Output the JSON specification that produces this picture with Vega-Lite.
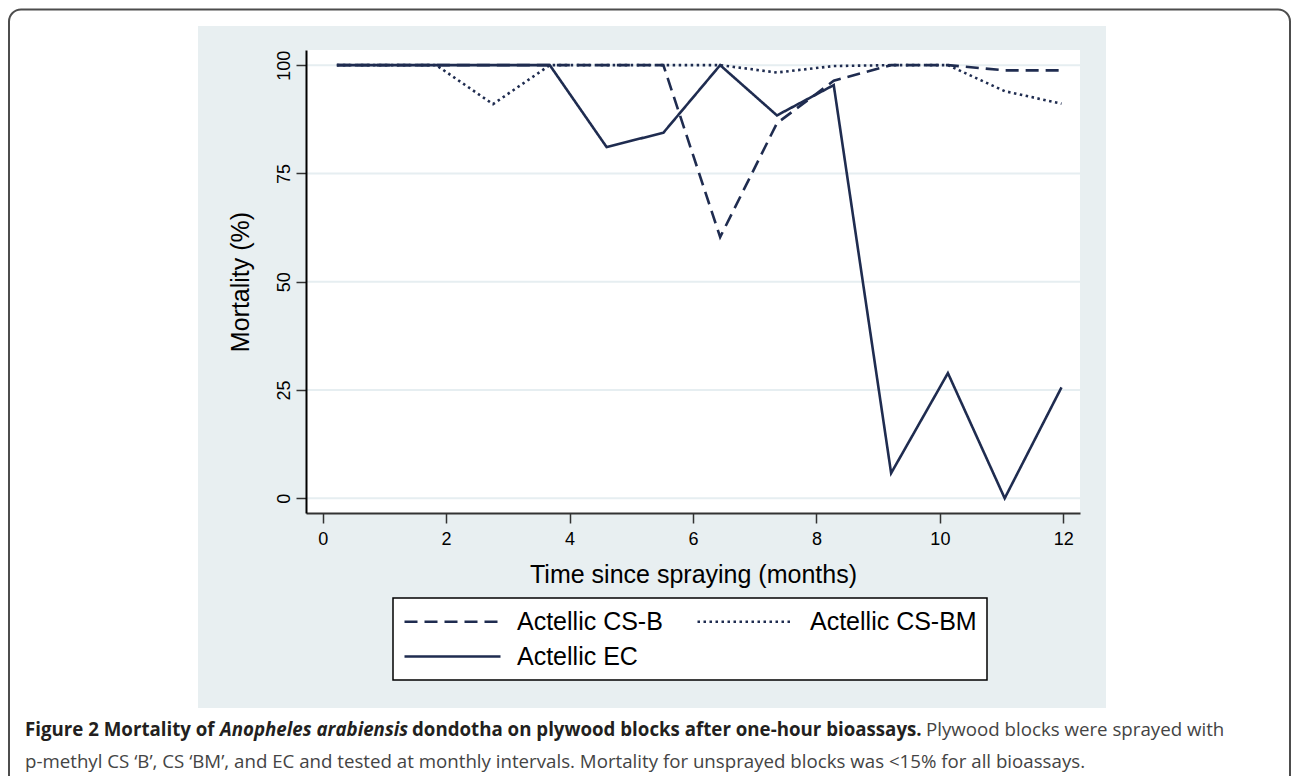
{
  "$schema": "https://vega.github.io/schema/vega-lite/v6.json",
  "width": 774,
  "height": 463,
  "autosize": {"type": "none"},
  "padding": {"left": 306, "top": 50, "right": 212, "bottom": 263},
  "background": "white",
  "config": {
    "view": {"stroke": null},
    "font": "Liberation Sans",
    "legend": {"strokeWidth": 1.5}
  },
  "layer": [
    {
      "data": {"values": [{}]},
      "mark": {"type": "rect", "fill": "white", "stroke": "#4d4d4d", "strokeWidth": 2, "cornerRadius": 12},
      "encoding": {"x": {"value": -297}, "x2": {"value": 984}, "y": {"value": -40.5}, "y2": {"value": 760}}
    },
    {
      "data": {"values": [{}]},
      "mark": {"type": "rect", "fill": "#e8eff1"},
      "encoding": {"x": {"value": -108}, "x2": {"value": 800}, "y": {"value": -24}, "y2": {"value": 658}}
    },
    {
      "data": {"values": [{}]},
      "mark": {"type": "rect", "fill": "white"},
      "encoding": {"x": {"value": 0}, "x2": {"value": 774}, "y": {"value": 0}, "y2": {"value": 463}}
    },
    {
      "data": {"values": [{"g": 0}, {"g": 25}, {"g": 50}, {"g": 75}, {"g": 100}]},
      "mark": {"type": "rule", "color": "#e6eef1", "strokeWidth": 2},
      "encoding": {"y": {"field": "g", "type": "quantitative"}}
    },
    {
      "data": {
        "values": [
          {"month": 0.23, "mortality": 100, "series": "Actellic CS-B"},
          {"month": 0.92, "mortality": 100, "series": "Actellic CS-B"},
          {"month": 1.84, "mortality": 100, "series": "Actellic CS-B"},
          {"month": 2.76, "mortality": 100, "series": "Actellic CS-B"},
          {"month": 3.68, "mortality": 100, "series": "Actellic CS-B"},
          {"month": 4.60, "mortality": 100, "series": "Actellic CS-B"},
          {"month": 5.52, "mortality": 100, "series": "Actellic CS-B"},
          {"month": 6.44, "mortality": 60.3, "series": "Actellic CS-B"},
          {"month": 7.36, "mortality": 86.6, "series": "Actellic CS-B"},
          {"month": 8.28, "mortality": 96.4, "series": "Actellic CS-B"},
          {"month": 9.21, "mortality": 100, "series": "Actellic CS-B"},
          {"month": 10.13, "mortality": 100, "series": "Actellic CS-B"},
          {"month": 11.05, "mortality": 98.8, "series": "Actellic CS-B"},
          {"month": 11.97, "mortality": 98.8, "series": "Actellic CS-B"},
          {"month": 0.23, "mortality": 100, "series": "Actellic CS-BM"},
          {"month": 0.92, "mortality": 100, "series": "Actellic CS-BM"},
          {"month": 1.84, "mortality": 100, "series": "Actellic CS-BM"},
          {"month": 2.76, "mortality": 91, "series": "Actellic CS-BM"},
          {"month": 3.68, "mortality": 100, "series": "Actellic CS-BM"},
          {"month": 4.60, "mortality": 100, "series": "Actellic CS-BM"},
          {"month": 5.52, "mortality": 100, "series": "Actellic CS-BM"},
          {"month": 6.44, "mortality": 100, "series": "Actellic CS-BM"},
          {"month": 7.36, "mortality": 98.3, "series": "Actellic CS-BM"},
          {"month": 8.28, "mortality": 99.8, "series": "Actellic CS-BM"},
          {"month": 9.21, "mortality": 100, "series": "Actellic CS-BM"},
          {"month": 10.13, "mortality": 100, "series": "Actellic CS-BM"},
          {"month": 11.05, "mortality": 94, "series": "Actellic CS-BM"},
          {"month": 11.97, "mortality": 91.1, "series": "Actellic CS-BM"},
          {"month": 0.23, "mortality": 100, "series": "Actellic EC"},
          {"month": 0.92, "mortality": 100, "series": "Actellic EC"},
          {"month": 1.84, "mortality": 100, "series": "Actellic EC"},
          {"month": 2.76, "mortality": 100, "series": "Actellic EC"},
          {"month": 3.68, "mortality": 100, "series": "Actellic EC"},
          {"month": 4.60, "mortality": 81.1, "series": "Actellic EC"},
          {"month": 5.52, "mortality": 84.4, "series": "Actellic EC"},
          {"month": 6.44, "mortality": 100, "series": "Actellic EC"},
          {"month": 7.36, "mortality": 88.4, "series": "Actellic EC"},
          {"month": 8.28, "mortality": 95.4, "series": "Actellic EC"},
          {"month": 9.21, "mortality": 5.8, "series": "Actellic EC"},
          {"month": 10.13, "mortality": 28.9, "series": "Actellic EC"},
          {"month": 11.05, "mortality": 0, "series": "Actellic EC"},
          {"month": 11.97, "mortality": 25.6, "series": "Actellic EC"}
        ]
      },
      "mark": {"type": "line", "color": "#1f2c50", "strokeWidth": 2.6},
      "encoding": {
        "x": {
          "field": "month", "type": "quantitative",
          "scale": {"domain": [-0.27, 12.27], "nice": false, "zero": false},
          "axis": {
            "title": "Time since spraying (months)",
            "values": [0, 2, 4, 6, 8, 10, 12],
            "grid": false, "zindex": 1,
            "domainColor": "#333333", "domainWidth": 2,
            "tickColor": "#333333", "tickWidth": 1.5, "tickSize": 10,
            "labelFont": "Liberation Sans", "labelFontSize": 18, "labelColor": "black", "labelPadding": 7,
            "titleFont": "Liberation Sans", "titleFontSize": 25, "titleFontWeight": "normal", "titleColor": "black",
            "titleBaseline": "alphabetic", "titleY": 69
          }
        },
        "y": {
          "field": "mortality", "type": "quantitative",
          "scale": {"domain": [-3.4, 103.5], "nice": false, "zero": false},
          "axis": {
            "title": "Mortality (%)",
            "values": [0, 25, 50, 75, 100],
            "grid": false, "zindex": 1,
            "domainColor": "black", "domainWidth": 2,
            "tickColor": "#333333", "tickWidth": 1.5, "tickSize": 10,
            "labelFont": "Liberation Sans", "labelFontSize": 18, "labelColor": "black",
            "labelAngle": -90, "labelAlign": "center", "labelBaseline": "alphabetic", "labelPadding": 7,
            "titleFont": "Liberation Sans", "titleFontSize": 25, "titleFontWeight": "normal", "titleColor": "black",
            "titleBaseline": "alphabetic", "titleX": -57.5, "titleAngle": -90
          }
        },
        "strokeDash": {
          "field": "series", "type": "nominal",
          "scale": {
            "domain": ["Actellic CS-B", "Actellic CS-BM", "Actellic EC"],
            "range": [[13, 7], [2.5, 3.5], [1, 0]]
          },
          "legend": {
            "title": null,
            "orient": "none", "legendX": 87, "legendY": 548,
            "columns": 2, "direction": "horizontal",
            "columnPadding": 29, "rowPadding": 8,
            "padding": 10,
            "strokeColor": "black", "fillColor": "white",
            "symbolType": "M-1,0H7", "symbolSize": 576, "symbolStrokeWidth": 2.5,
            "symbolStrokeColor": "#1f2c50",
            "labelFont": "Liberation Sans", "labelFontSize": 25, "labelColor": "black",
            "labelOffset": 87, "labelLimit": 400
          }
        }
      }
    },
    {
      "data": {"values": [{}]},
      "mark": {"type": "text", "font": "Open Sans", "fontSize": 18.7, "fontWeight": "bold", "color": "#231f20", "align": "left", "baseline": "alphabetic"},
      "encoding": {"x": {"value": -281}, "y": {"value": 686}, "text": {"value": "Figure 2 Mortality of"}}
    },
    {
      "data": {"values": [{}]},
      "mark": {"type": "text", "font": "Open Sans", "fontSize": 18.7, "fontWeight": "bold", "fontStyle": "italic", "color": "#231f20", "align": "left", "baseline": "alphabetic"},
      "encoding": {"x": {"value": -86}, "y": {"value": 686}, "text": {"value": "Anopheles arabiensis"}}
    },
    {
      "data": {"values": [{}]},
      "mark": {"type": "text", "font": "Open Sans", "fontSize": 18.7, "fontWeight": "bold", "color": "#231f20", "align": "left", "baseline": "alphabetic"},
      "encoding": {"x": {"value": 106}, "y": {"value": 686}, "text": {"value": "dondotha on plywood blocks after one-hour bioassays."}}
    },
    {
      "data": {"values": [{}]},
      "mark": {"type": "text", "font": "Open Sans", "fontSize": 18.7, "color": "#444444", "align": "left", "baseline": "alphabetic"},
      "encoding": {"x": {"value": 620}, "y": {"value": 686}, "text": {"value": "Plywood blocks were sprayed with"}}
    },
    {
      "data": {"values": [{}]},
      "mark": {"type": "text", "font": "Open Sans", "fontSize": 18.7, "color": "#444444", "align": "left", "baseline": "alphabetic"},
      "encoding": {"x": {"value": -281}, "y": {"value": 718}, "text": {"value": "p-methyl CS ‘B’, CS ‘BM’, and EC and tested at monthly intervals. Mortality for unsprayed blocks was <15% for all bioassays."}}
    }
  ]
}
